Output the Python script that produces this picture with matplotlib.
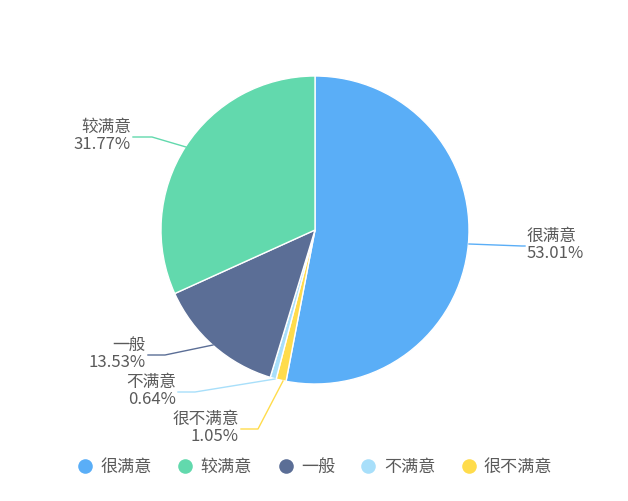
import matplotlib.pyplot as plt
from matplotlib.lines import Line2D

plt.rcParams['font.family'] = ['Noto Sans CJK SC', 'DejaVu Sans']

# data, in clockwise drawing order starting at 12 o'clock
labels = ['很满意', '很不满意', '不满意', '一般', '较满意']
values = [53.01, 1.05, 0.64, 13.53, 31.77]
colors = ['#5AAEF7', '#FFDC4C', '#A8DFFA', '#5B6E96', '#62D9AD']

# legend order
legend_order = ['很满意', '较满意', '一般', '不满意', '很不满意']

# label anchor (text end), elbow and pie-edge point, in pixels from top-left
label_pos = {
    '很满意': ((527, 246), (522, 246), (469, 244), 'left'),
    '较满意': ((131, 137), (152, 137), (186, 147), 'right'),
    '一般': ((146, 355), (165, 355), (213, 345), 'right'),
    '不满意': ((176, 392), (195, 392), (275, 379), 'right'),
    '很不满意': ((239, 429), (258, 429), (283, 381), 'right'),
}

W, H = 628, 501
TXT = '#5a5a5a'


def main():
    fig = plt.figure(figsize=(W / 100, H / 100), dpi=100)
    ax = fig.add_axes([0, 0, 1, 1])

    ax.pie(values, colors=colors, startangle=90, counterclock=False,
           center=(315, H - 230), radius=154,
           wedgeprops=dict(edgecolor='white', linewidth=1))
    # pie() resets the limits, so set them afterwards
    ax.set_xlim(0, W)
    ax.set_ylim(0, H)
    ax.set_aspect('equal')
    ax.axis('off')

    for lab, val, col in zip(labels, values, colors):
        (tx, ty), (ex, ey), (px, py), ha = label_pos[lab]
        ax.plot([tx + (-2 if ha == 'left' else 2), ex, px],
                [H - ty, H - ey, H - py], color=col, lw=1)
        ax.text(tx, H - ty + 1, lab, ha=ha, va='bottom', fontsize=12, color=TXT)
        ax.text(tx, H - ty + 1, f'{val:.2f}%', ha=ha, va='top',
                fontsize=12, color=TXT)

    handles = [Line2D([], [], marker='o', ls='', markersize=10.5,
                      markerfacecolor=colors[labels.index(l)],
                      markeredgecolor='none', label=l)
               for l in legend_order]
    fig.legend(handles=handles, loc='center', bbox_to_anchor=(0.501, 1 - 467 / H),
               ncol=5, frameon=False, fontsize=12.3, handlelength=1.0,
               handletextpad=0.4, columnspacing=1.45, labelcolor=TXT)

    fig.savefig('out.png', dpi=100)


if __name__ == "__main__":
    main()
